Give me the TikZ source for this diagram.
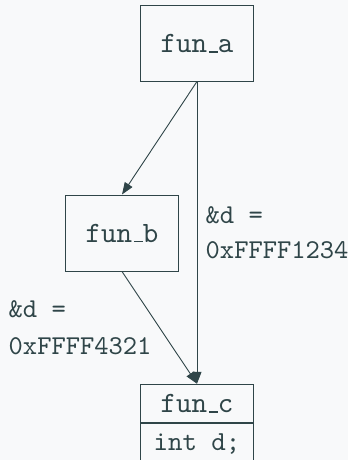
\documentclass[tikz,border=0pt]{standalone}
\usepackage{fontspec}
\usetikzlibrary{arrows.meta}
\newfontfamily\codefont{lmmono10-regular.otf}
\definecolor{bgcol}{RGB}{248,249,250}
\definecolor{ink}{RGB}{47,69,72}
% short underscore drawn as a rule on the baseline
\newcommand\usc{\leavevmode\kern.06em\vbox{\hrule width.3em height 1.1pt}}
\tikzset{
  fnbox/.style={draw=ink, line width=1pt, text=ink, minimum width=113pt,
    inner sep=0pt, font=\codefont\fontsize{29.5}{34}\selectfont},
  membox/.style={fnbox, font=\codefont\fontsize{27.5}{32}\selectfont},
  call/.style={draw=ink, line width=0.9pt, -{Triangle[length=12pt,width=9pt]}},
  addr/.style={text=ink, anchor=base west, inner sep=0pt,
    font=\codefont\fontsize{27.2}{30}\selectfont},
}
\begin{document}
\begin{tikzpicture}[x=1pt,y=1pt]
  \fill[bgcol] (0,-460) rectangle (348,0);
  \useasboundingbox (0,-460) rectangle (348,0);

  % functions
  \node[fnbox, minimum height=75pt] (a) at (197,-43.5) {fun\usc a};
  \node[fnbox, minimum height=76pt] (b) at (122,-233) {fun\usc b};
  \node[fnbox, minimum height=38.5pt] (c) at (197,-403.5) {fun\usc c};
  \node[membox, minimum height=40pt, anchor=north] (cvars) at (c.south) {int d;};

  % calls
  \draw[call] (a.south) -- (b.north);
  \draw[call] (a.south) -- (c.north);
  \draw[call] (b.south) -- (c.north);

  % address annotations
  \node[addr] (l1) at (205.5,-223) {\&d =};
  \node[addr] (l2) at (205.5,-258) {0xFFFF1234};
  \node[addr] (l3) at (8.5,-317) {\&d =};
  \node[addr] (l4) at (8.5,-354) {0xFFFF4321};
\end{tikzpicture}
\end{document}
